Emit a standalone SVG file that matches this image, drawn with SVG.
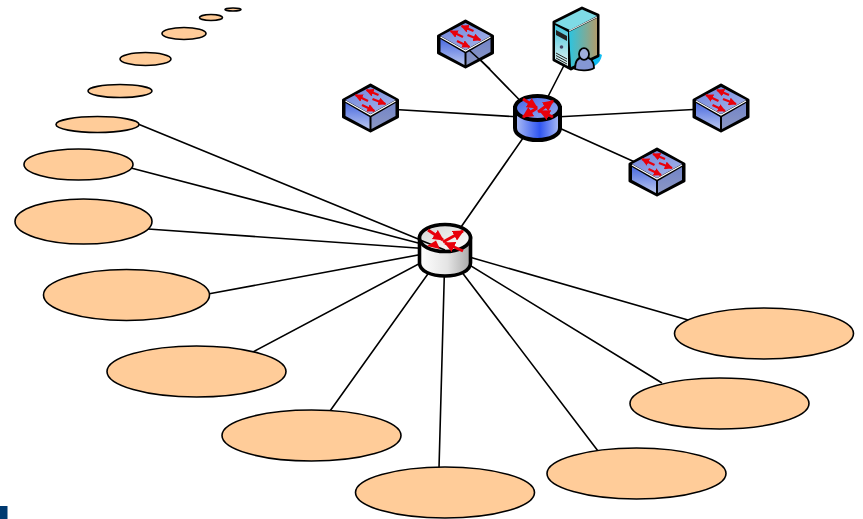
<svg xmlns="http://www.w3.org/2000/svg" width="863" height="519" viewBox="0 0 863 519">
<style>
.net{fill:#ffcc99;stroke:#000;stroke-width:1.600}
.lk{stroke:#000;stroke-width:1.600;fill:none}
.a1{stroke:#e8000b;stroke-width:3;fill:none;marker-end:url(#h)}
.a2{stroke:#e8000b;stroke-width:2.300;fill:none;marker-end:url(#s)}
</style>
<defs>
<linearGradient id="gw" x1="0" x2="1" y1="0" y2="0"><stop offset="0" stop-color="#fff"/><stop offset=".55" stop-color="#e4e4e4"/><stop offset="1" stop-color="#a8a8a8"/></linearGradient>
<linearGradient id="gwt" x1="0" x2="1" y1="0" y2="1"><stop offset="0" stop-color="#d4d4d4"/><stop offset="1" stop-color="#fff"/></linearGradient>
<linearGradient id="gb" x1="0" x2="1" y1="0" y2="0"><stop offset="0" stop-color="#b0c0f5"/><stop offset=".55" stop-color="#2f55f0"/><stop offset="1" stop-color="#b0c0f5"/></linearGradient>
<linearGradient id="gbt" x1="0" x2="1" y1="0" y2="1"><stop offset="0" stop-color="#3f62ea"/><stop offset="1" stop-color="#a0b2ee"/></linearGradient>
<linearGradient id="gs1" x1="0" x2="1" y1="0" y2="1"><stop offset="0" stop-color="#6f84dc"/><stop offset="1" stop-color="#a8b6ea"/></linearGradient>
<linearGradient id="gs2" x1="0" x2="0" y1="0" y2="1"><stop offset="0" stop-color="#4a6ae0"/><stop offset="1" stop-color="#b9c6ee"/></linearGradient>
<linearGradient id="gs3" x1="0" x2="0" y1="0" y2="1"><stop offset="0" stop-color="#7284c8"/><stop offset="1" stop-color="#8c98c4"/></linearGradient>
<linearGradient id="srv" x1="0" x2="1" y1="0" y2="0"><stop offset="0" stop-color="#2cc4e0"/><stop offset="1" stop-color="#b09c6c"/></linearGradient>
<linearGradient id="srvl" x1="0" x2="0" y1="0" y2="1"><stop offset="0" stop-color="#3fc4dc"/><stop offset="1" stop-color="#e8f4f2"/></linearGradient>
<marker id="h" viewBox="0 0 10 10" refX="9" refY="5" markerUnits="userSpaceOnUse" markerWidth="11" markerHeight="11" orient="auto"><path d="M0 0L10 5L0 10Z" fill="#e8000b"/></marker>
<marker id="s" viewBox="0 0 10 10" refX="9" refY="5" markerUnits="userSpaceOnUse" markerWidth="8" markerHeight="8" orient="auto"><path d="M0 0L10 5L0 10Z" fill="#e8000b"/></marker>
<g id="sw">
<path d="M0-23L27-8V9L0 23L-27 9V-8Z" fill="#000" stroke="#000" stroke-width="3" stroke-linejoin="round"/>
<path d="M0-21L25-8L0 6L-25-8Z" fill="url(#gs1)"/>
<path d="M-25-5L-1 9V21L-25 8Z" fill="url(#gs2)"/>
<path d="M25-5L1 9V21L25 8Z" fill="url(#gs3)"/>
<path d="M-25-7L0 7L25-7" fill="none" stroke="#fff" stroke-width="1.200"/>
<path class="a2" d="M8-13L-4-18"/>
<path class="a2" d="M-2.500-7L-15-13"/>
<path class="a2" d="M2-9L15-4"/>
<path class="a2" d="M-8.500-3L4 3"/>
</g>
<g id="arrows">
<path d="M-25 1L0 11" stroke="#000" stroke-width="1.600" fill="none"/>
<path class="a1" d="M-17-9L-2 1"/>
<path class="a1" d="M-2 3L18-8"/>
<path class="a1" d="M18 12L0 4"/>
<path d="M-18 7L-9 1.500L-5 10Z" fill="#e8000b"/>
</g>
<g id="arrows-top">
<path class="a1" d="M-14-10L0 -1"/>
<path class="a1" d="M1 3L16-8"/>
<path class="a1" d="M16 8L3 2"/>
<path class="a1" d="M0 -1L-14 8"/>
</g>
</defs>
<g id="connectors" class="lk">
<path d="M445 250L138 124M445 250L131 168M445 250L148 229M445 250L208 294M445 250L253 352M445 250L330 411M445 250L439 468M445 250L598 451M445 250L662 383M445 250L688 320M445 250L537 118"/>
<path d="M537 118L370 108M537 118L465 44M537 118L576 42M537 118L721 108M537 118L657 172"/>
</g>
<g id="net1"><ellipse class="net" cx="233" cy="9.500" rx="8" ry="1.500"/></g>
<g id="net2"><ellipse class="net" cx="211" cy="17.500" rx="11.500" ry="3"/></g>
<g id="net3"><ellipse class="net" cx="184" cy="33.500" rx="22" ry="6"/></g>
<g id="net4"><ellipse class="net" cx="145.500" cy="59" rx="25.500" ry="6.500"/></g>
<g id="net5"><ellipse class="net" cx="120" cy="91" rx="32" ry="6.500"/></g>
<g id="net6"><ellipse class="net" cx="97.500" cy="124.500" rx="41.500" ry="8"/></g>
<g id="net7"><ellipse class="net" cx="78.500" cy="164.500" rx="54.500" ry="15.500"/></g>
<g id="net8"><ellipse class="net" cx="83.500" cy="221.500" rx="68.500" ry="22.500"/></g>
<g id="net9"><ellipse class="net" cx="126.500" cy="295" rx="83" ry="25.500"/></g>
<g id="net10"><ellipse class="net" cx="196.500" cy="371.500" rx="89.500" ry="25.500"/></g>
<g id="net11"><ellipse class="net" cx="311.500" cy="435.500" rx="89.500" ry="25.500"/></g>
<g id="net12"><ellipse class="net" cx="445" cy="492.500" rx="89.500" ry="25.500"/></g>
<g id="net13"><ellipse class="net" cx="636.500" cy="473.500" rx="89.500" ry="25.500"/></g>
<g id="net14"><ellipse class="net" cx="719.500" cy="403.500" rx="89.500" ry="25.500"/></g>
<g id="net15"><ellipse class="net" cx="764" cy="333.500" rx="89.500" ry="25.500"/></g>
<g id="router-core">
<path d="M419.500 238V263C419.500 271 431 276 445 276C459 276 470.500 271 470.500 263V238Z" fill="url(#gw)" stroke="#000" stroke-width="3.600"/>
<ellipse cx="445" cy="238" rx="25.500" ry="13.500" fill="url(#gwt)" stroke="#000" stroke-width="3.600"/>
<use href="#arrows" x="445" y="239"/>
</g>
<g id="router-top">
<path d="M515 108V128C515 135 525 140 537.500 140C550 140 560 135 560 128V108Z" fill="url(#gb)" stroke="#000" stroke-width="4"/>
<ellipse cx="537.500" cy="108" rx="22.500" ry="12" fill="url(#gbt)" stroke="#000" stroke-width="4"/>
<use href="#arrows-top" x="537" y="109"/>
</g>
<g id="switch1"><use href="#sw" x="370.500" y="108"/></g>
<g id="switch2"><use href="#sw" x="465.500" y="44"/></g>
<g id="switch3"><use href="#sw" x="721" y="108"/></g>
<g id="switch4"><use href="#sw" x="657" y="172"/></g>
<path id="switch2-link" class="lk" d="M469 50L490 69"/>
<g id="server">
<path d="M578 69C590 70 600 66 602 55C598 51 590 60 578 62Z" fill="#12bdf2"/>
<path d="M554 22L582 8L598 15V56L571 69L554 60Z" fill="#000" stroke="#000" stroke-width="3" stroke-linejoin="round"/>
<path d="M555 23L582 9.500L597 16L570 30Z" fill="#7edbe6"/>
<path d="M569 32L597 18V55L571 67Z" fill="url(#srv)"/>
<path d="M555 25L568 32V66L555 59Z" fill="url(#srvl)"/>
<path d="M569 31L597 17" stroke="#fff" stroke-width="1" fill="none"/>
<path d="M556 30L567 36V41L556 35Z" fill="#222"/>
<circle cx="561.500" cy="47" r="1.800" fill="#446"/>
<path d="M556 53L567 59M556 55.500L567 61.500M556 58L567 64" stroke="#222" stroke-width="1"/>
<path d="M575 69C575 60 579 57 584 57C590 57 594 61 594 68C590 71 580 71 575 69Z" fill="#8497d4" stroke="#000" stroke-width="1.800"/>
<ellipse cx="584" cy="54" rx="5" ry="5.800" fill="#a0aede" stroke="#000" stroke-width="1.800"/>
</g>
<rect id="corner-mark" x="0" y="506" width="7.500" height="13" fill="#003a70"/>
</svg>
